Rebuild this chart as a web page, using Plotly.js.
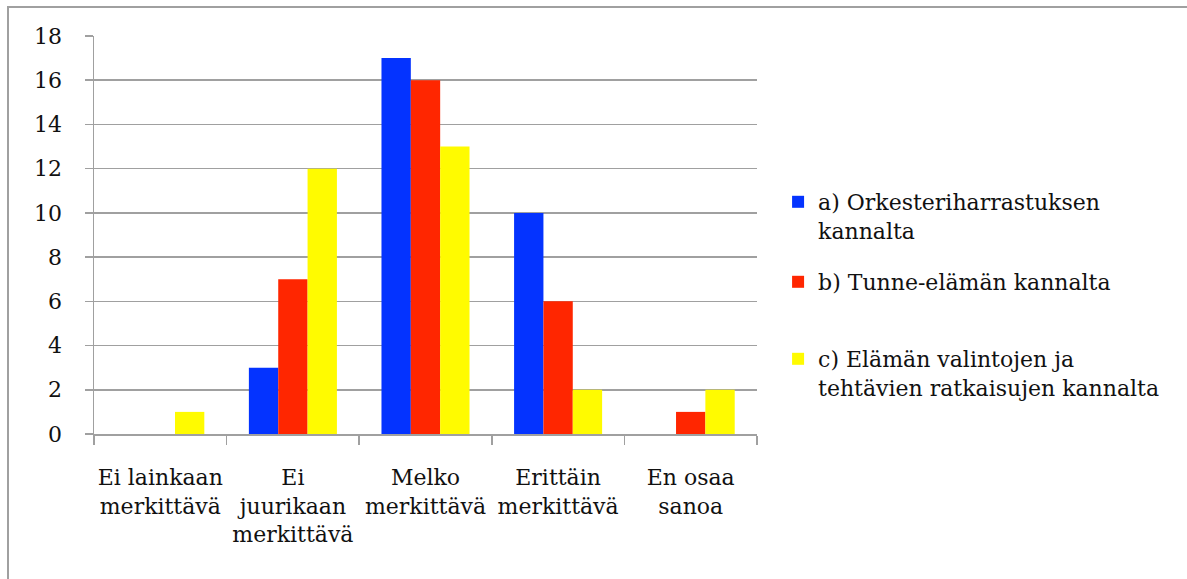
<!DOCTYPE html>
<html>
<head>
<meta charset="utf-8">
<script src="https://cdn.plot.ly/plotly-3.0.1.min.js"></script>
<style>html,body{margin:0;padding:0;background:#fff;}#chart{width:1187px;height:579px;}</style>
</head>
<body>
<div id="chart"></div>
<script>
const categories = ["Ei lainkaan<br>merkittävä", "Ei<br>juurikaan<br>merkittävä", "Melko<br>merkittävä", "Erittäin<br>merkittävä", "En osaa<br>sanoa"];
const seriesNames = ["a) Orkesteriharrastuksen<br>kannalta", "b) Tunne-elämän kannalta", "c) Elämän valintojen ja<br>tehtävien ratkaisujen kannalta"];
const seriesA = [0, 3, 17, 10, 0];
const seriesB = [0, 7, 16, 6, 1];
const seriesC = [1, 12, 13, 2, 2];
const yTicks = [0, 2, 4, 6, 8, 10, 12, 14, 16, 18];

const colors = ["#0433FF", "#FF2600", "#FFFB00"];
const FONT = "DejaVu Serif";
const values = [seriesA, seriesB, seriesC];
const legendIds = ["legend", "legend2", "legend3"];

const traces = values.map((v, i) => ({
  type: "bar",
  x: categories,
  y: v,
  name: seriesNames[i],
  marker: {color: colors[i], line: {width: 0}},
  legend: legendIds[i],
  hoverinfo: "x+y+name"
}));

const legendBase = {
  xref: "container", yref: "container",
  xanchor: "left", yanchor: "top",
  bgcolor: "rgba(0,0,0,0)",
  borderwidth: 0,
  valign: "top",
  font: {family: FONT, size: 22, color: "#111"},
  itemclick: false, itemdoubleclick: false
};

const layout = {
  width: 1187, height: 579,
  margin: {l: 94, r: 430, t: 36, b: 145},
  paper_bgcolor: "#ffffff",
  plot_bgcolor: "#ffffff",
  barmode: "group",
  bargap: 0.336,
  bargroupgap: 0,
  font: {family: FONT, size: 22, color: "#111"},
  xaxis: {
    type: "category",
    tickson: "boundaries",
    tickangle: 0,
    ticks: "outside", ticklen: 9, tickwidth: 1.5, tickcolor: "#A0A0A0",
    showline: true, linecolor: "#A0A0A0", linewidth: 1.5,
    showgrid: false,
    ticklabelstandoff: 23,
    tickfont: {family: FONT, size: 22, color: "#111"},
    range: [-0.5, 4.5]
  },
  yaxis: {
    range: [0, 18],
    tickvals: yTicks,
    ticks: "outside", ticklen: 8, tickwidth: 1.5, tickcolor: "#A0A0A0",
    showline: true, linecolor: "#A0A0A0", linewidth: 1.5,
    showgrid: true, gridcolor: "#A0A0A0", gridwidth: 1.5,
    zeroline: false,
    ticklabelstandoff: 18,
    tickfont: {family: FONT, size: 22, color: "#111"}
  },
  showlegend: true,
  legend: Object.assign({}, legendBase, {x: 0.6555, y: 1 - 181/579}),
  legend2: Object.assign({}, legendBase, {x: 0.6555, y: 1 - 261/579}),
  legend3: Object.assign({}, legendBase, {x: 0.6555, y: 1 - 338/579}),
  shapes: [{
    type: "rect", xref: "paper", yref: "paper",
    x0: (8 - 94) / 663, x1: (1200 - 94) / 663,
    y0: (434 - 600) / 398, y1: (434 - 7) / 398,
    line: {color: "#A0A0A0", width: 2},
    fillcolor: "rgba(0,0,0,0)",
    layer: "below"
  }]
};

Plotly.newPlot("chart", traces, layout, {displayModeBar: false, staticPlot: true});
</script>
</body>
</html>
